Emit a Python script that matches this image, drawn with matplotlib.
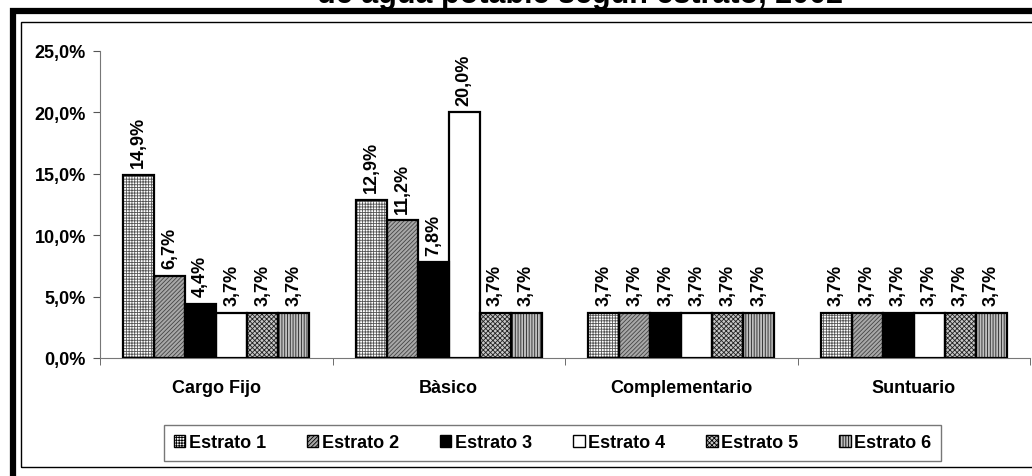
import numpy as np
import matplotlib
matplotlib.use('Agg')
import matplotlib.pyplot as plt
from matplotlib.patches import Rectangle, Patch

plt.rcParams['font.family'] = ['Liberation Sans', 'DejaVu Sans']
plt.rcParams['font.weight'] = 'bold'
plt.rcParams['hatch.linewidth'] = 0.6

# data
categorias = ['Cargo Fijo', 'Bàsico', 'Complementario', 'Suntuario']
estratos = ['Estrato 1', 'Estrato 2', 'Estrato 3', 'Estrato 4', 'Estrato 5', 'Estrato 6']
valores = {
    'Estrato 1': [14.9, 12.9, 3.7, 3.7],
    'Estrato 2': [6.7, 11.2, 3.7, 3.7],
    'Estrato 3': [4.4, 7.8, 3.7, 3.7],
    'Estrato 4': [3.7, 20.0, 3.7, 3.7],
    'Estrato 5': [3.7, 3.7, 3.7, 3.7],
    'Estrato 6': [3.7, 3.7, 3.7, 3.7],
}
yticks = [0, 5, 10, 15, 20, 25]
titulo = 'de agua potable según estrato, 2002'

# fill, hatch, hatch colour per estrato
estilos = [
    ('white', '++++++', '#555555'),
    ('#a8a8a8', '////////', '#444444'),
    ('black', '', 'black'),
    ('white', '', 'white'),
    ('#c8c8c8', 'xxxxxxx', '#222222'),
    ('#c0c0c0', '||||||', '#222222'),
]

W, H = 1032, 477
fig = plt.figure(figsize=(W / 100, H / 100), dpi=100)

def fx(px):
    return px / W

def fy(py):
    return 1 - py / H

# outer thick frame and inner thin border (both run off the right/bottom edge as in the source)
fig.patches.append(Rectangle((fx(13), fy(490)), fx(1100), fy(12) - fy(490), transform=fig.transFigure,
                             fill=False, edgecolor='black', linewidth=4.5))
fig.patches.append(Rectangle((fx(21), fy(468)), fx(1100), fy(23) - fy(468), transform=fig.transFigure,
                             fill=False, edgecolor='black', linewidth=1.0))

fig.text(fx(580), fy(2.5), titulo, ha='center', va='baseline', fontsize=22, fontweight='bold')

ax = fig.add_axes([fx(100), fy(359), fx(1030) - fx(100), fy(52) - fy(359)])

n = len(estratos)
ancho = 0.8 / n
x = np.arange(len(categorias))
for i, est in enumerate(estratos):
    fc, hatch, hc = estilos[i]
    pos = x - 0.4 + ancho * (i + 0.5)
    ax.bar(pos, valores[est], width=ancho, color=fc, hatch=hatch, edgecolor=hc, linewidth=0, zorder=2)
    ax.bar(pos, valores[est], width=ancho, facecolor='none', edgecolor='black', linewidth=1.6, zorder=3)
    for xp, v in zip(pos, valores[est]):
        ax.annotate(('%.1f%%' % v).replace('.', ','), (xp, v), xytext=(0, 5.5), textcoords='offset points',
                    rotation=90, ha='center', va='bottom', fontsize=13, fontweight='bold')

ax.set_xlim(-0.5, len(categorias) - 0.5)
ax.set_ylim(0, 25)
ax.set_yticks(yticks)
ax.set_yticklabels([('%.1f%%' % t).replace('.', ',') for t in yticks], fontsize=13, fontweight='bold')
ax.set_xticks(x)
ax.set_xticklabels(categorias, fontsize=13, fontweight='bold')
ax.set_xticks(np.arange(len(categorias) + 1) - 0.5, minor=True)
ax.tick_params(axis='x', which='major', length=0, pad=15)
ax.tick_params(axis='x', which='minor', length=5, color='#555555', direction='out')
ax.tick_params(axis='y', length=5, color='#555555', direction='out', pad=5)
for s in ['top', 'right']:
    ax.spines[s].set_visible(False)
ax.spines['left'].set_color('#777777')
ax.spines['bottom'].set_color('#777777')
ax.set_facecolor('none')

handles = []
for i, est in enumerate(estratos):
    fc, hatch, hc = estilos[i]
    handles.append(Patch(facecolor=fc, hatch=hatch, edgecolor='black', linewidth=1.0, label=est))
leg = fig.legend(handles=handles, ncol=6, loc='center', bbox_to_anchor=(fx(552.5), fy(444)),
                 prop={'size': 13, 'weight': 'bold'}, frameon=True, fancybox=False,
                 handlelength=0.65, handleheight=0.65, handletextpad=0.2, columnspacing=2.25,
                 borderpad=0.55, borderaxespad=0)
leg.get_frame().set_edgecolor('#555555')
leg.get_frame().set_linewidth(1.0)

fig.savefig('out.png', dpi=100)
